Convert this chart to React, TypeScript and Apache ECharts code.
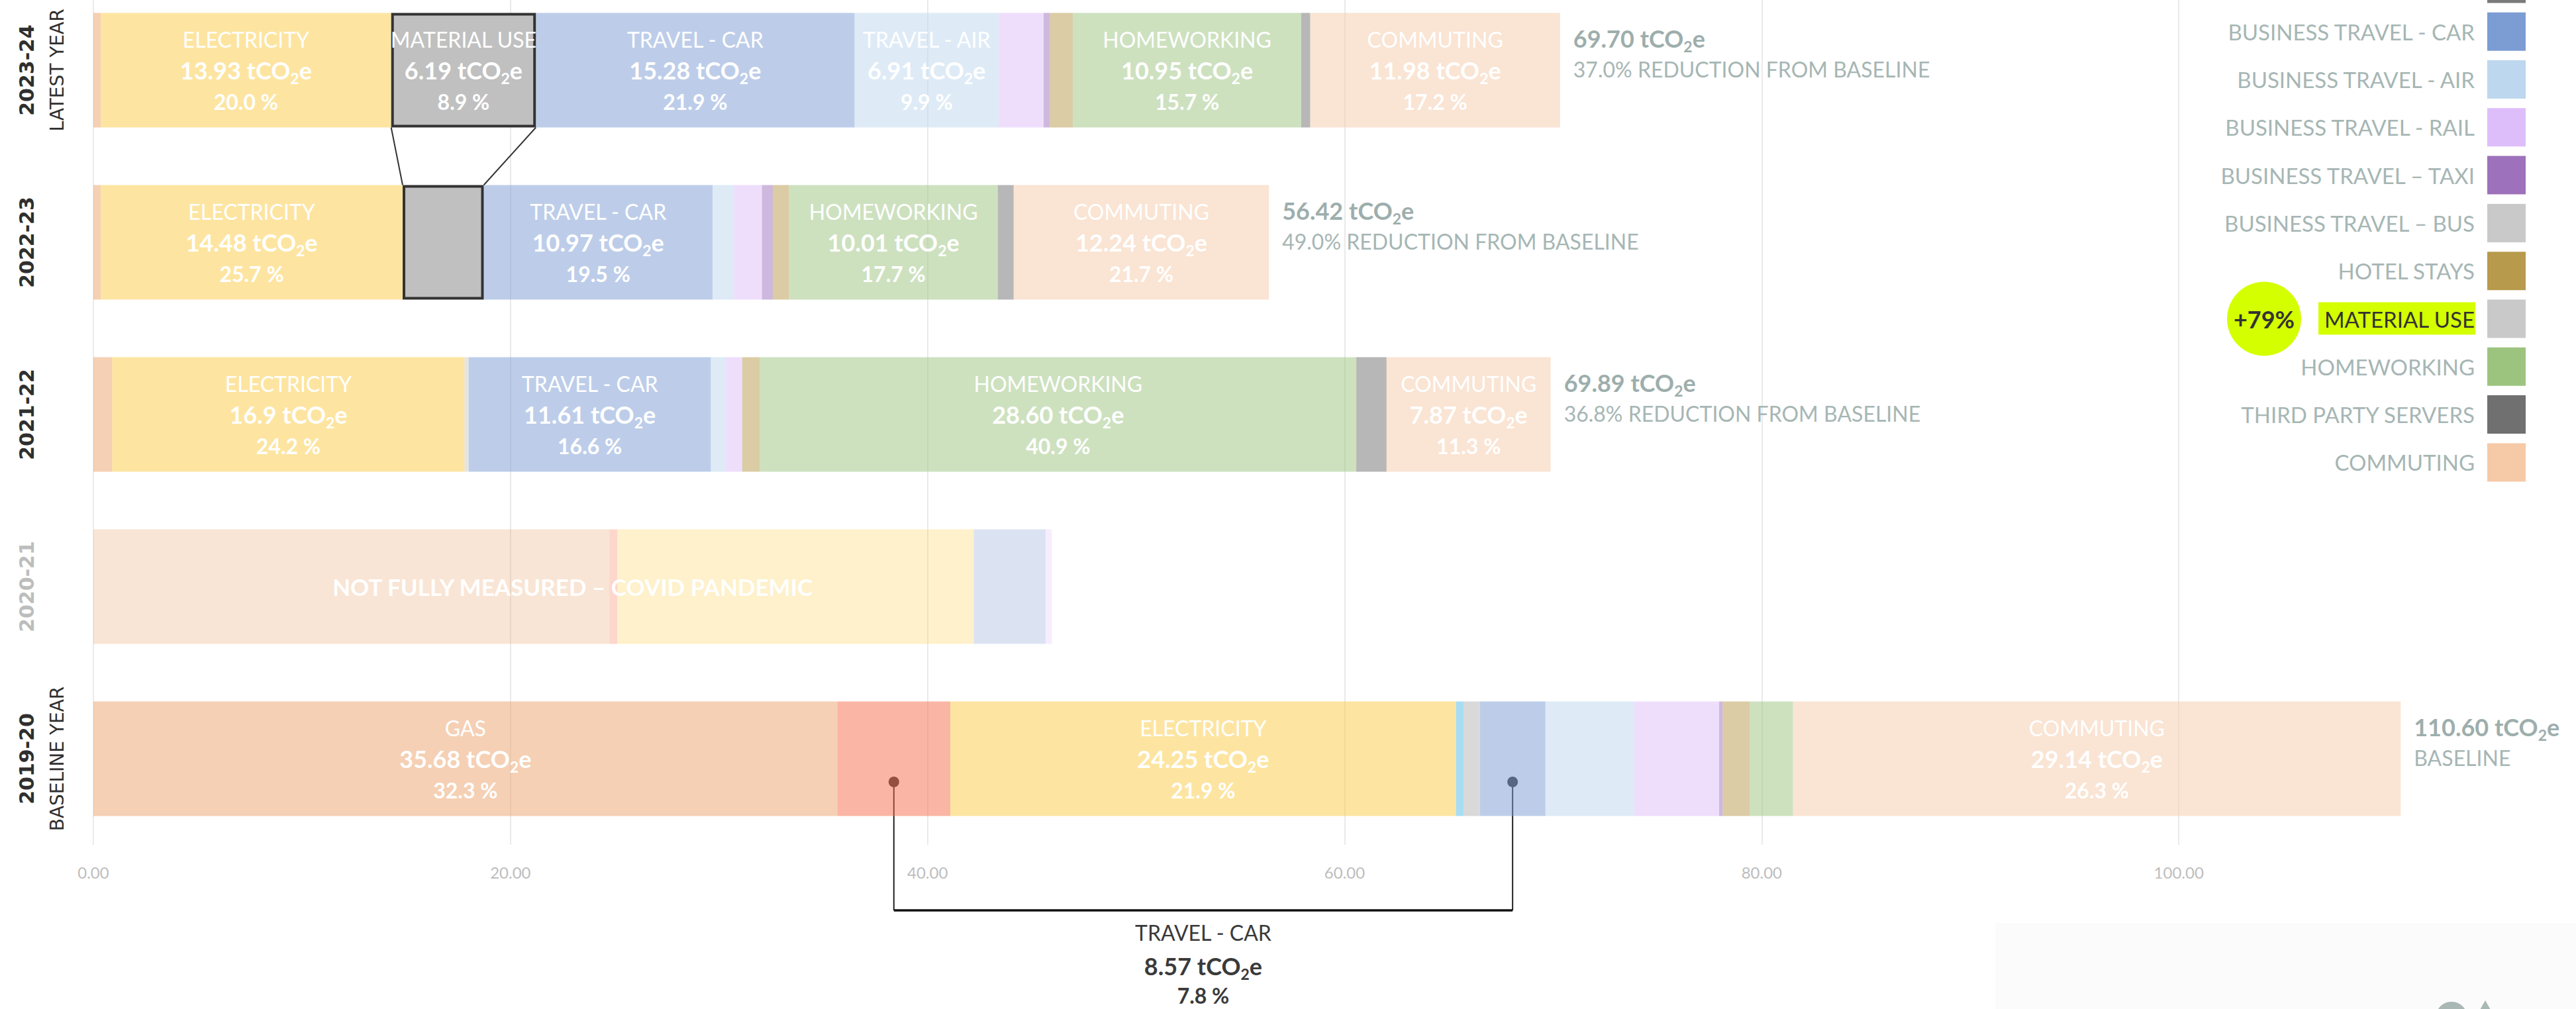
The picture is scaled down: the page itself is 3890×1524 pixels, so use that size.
import React, { useEffect, useRef } from "react";
import * as echarts from "echarts";

// ---------- DATA ----------
const years = ["2023-24", "2022-23", "2021-22", "2020-21", "2019-20"];
const yearNotes = ["LATEST YEAR", "", "", "", "BASELINE YEAR"];

// tCO2e per source, rows follow `years`
const gas = [0.35, 0.35, 0.9, 24.75, 35.68];
const fleetCar = [0, 0, 0, 0.37, 5.41];
const electricity = [13.93, 14.48, 16.9, 17.1, 24.25];
const water = [0, 0, 0, 0, 0.37];
const materialUse = [6.94, 3.89, 0.2, 0, 0.77];
const travelCar = [15.28, 10.97, 11.61, 3.44, 3.15];
const travelAir = [6.91, 1.03, 0.7, 0, 4.25];
const travelRail = [2.16, 1.34, 0.8, 0.3, 4.08];
const travelTaxi = [0.3, 0.52, 0, 0, 0.17];
const hotelStays = [1.1, 0.78, 0.85, 0, 1.29];
const homeworking = [10.95, 10.01, 28.6, 0, 2.08];
const thirdParty = [0.43, 0.76, 1.45, 0, 0];
const commuting = [11.98, 12.24, 7.87, 0, 29.14];

const reportedTotals: (number | null)[] = [69.7, 56.42, 69.89, null, 110.6];
const baselineTotal = 110.6;

// [series, row, caption, tCO2e shown, share % shown]
const segmentLabels: [string, number, string, string, string][] = [
  ["ELECTRICITY", 0, "ELECTRICITY", "13.93", "20.0"],
  ["MATERIAL USE", 0, "MATERIAL USE", "6.19", "8.9"],
  ["BUSINESS TRAVEL - CAR", 0, "TRAVEL - CAR", "15.28", "21.9"],
  ["BUSINESS TRAVEL - AIR", 0, "TRAVEL - AIR", "6.91", "9.9"],
  ["HOMEWORKING", 0, "HOMEWORKING", "10.95", "15.7"],
  ["COMMUTING", 0, "COMMUTING", "11.98", "17.2"],
  ["ELECTRICITY", 1, "ELECTRICITY", "14.48", "25.7"],
  ["BUSINESS TRAVEL - CAR", 1, "TRAVEL - CAR", "10.97", "19.5"],
  ["HOMEWORKING", 1, "HOMEWORKING", "10.01", "17.7"],
  ["COMMUTING", 1, "COMMUTING", "12.24", "21.7"],
  ["ELECTRICITY", 2, "ELECTRICITY", "16.9", "24.2"],
  ["BUSINESS TRAVEL - CAR", 2, "TRAVEL - CAR", "11.61", "16.6"],
  ["HOMEWORKING", 2, "HOMEWORKING", "28.60", "40.9"],
  ["COMMUTING", 2, "COMMUTING", "7.87", "11.3"],
  ["GAS", 4, "GAS", "35.68", "32.3"],
  ["ELECTRICITY", 4, "ELECTRICITY", "24.25", "21.9"],
  ["COMMUTING", 4, "COMMUTING", "29.14", "26.3"],
];

const covidNote = "NOT FULLY MEASURED – COVID PANDEMIC";
const carAnnotation = { caption: "TRAVEL - CAR", value: "8.57", share: "7.8" };

// legend entries; the first one is cut off by the top edge (swatch only)
const legendNames = [
  "",
  "BUSINESS TRAVEL - CAR",
  "BUSINESS TRAVEL - AIR",
  "BUSINESS TRAVEL - RAIL",
  "BUSINESS TRAVEL – TAXI",
  "BUSINESS TRAVEL – BUS",
  "HOTEL STAYS",
  "MATERIAL USE",
  "HOMEWORKING",
  "THIRD PARTY SERVERS",
  "COMMUTING",
];
const materialChange = "+79%";

// ---------- STYLE ----------
const legendColors: Record<string, string> = {
  "": "#7A7A7A",
  "BUSINESS TRAVEL - CAR": "#7C9CD4",
  "BUSINESS TRAVEL - AIR": "#BDD7EE",
  "BUSINESS TRAVEL - RAIL": "#DDBEFA",
  "BUSINESS TRAVEL – TAXI": "#9D71BB",
  "BUSINESS TRAVEL – BUS": "#C9C9C9",
  "HOTEL STAYS": "#B79A4C",
  "MATERIAL USE": "#C9C9C9",
  HOMEWORKING: "#9CC47F",
  "THIRD PARTY SERVERS": "#707070",
  COMMUTING: "#F6C9A7",
};

const seriesList = [
  { name: "GAS", data: gas, color: "#EBA169" },
  { name: "TRAVEL - CAR (FLEET)", data: fleetCar, color: "#F76B49" },
  { name: "ELECTRICITY", data: electricity, color: "#FBCB43" },
  { name: "WATER", data: water, color: "#4FBBE5" },
  { name: "MATERIAL USE", data: materialUse, color: "#C9C9C9" },
  { name: "BUSINESS TRAVEL - CAR", data: travelCar, color: "#7C9CD4" },
  { name: "BUSINESS TRAVEL - AIR", data: travelAir, color: "#BDD7EE" },
  { name: "BUSINESS TRAVEL - RAIL", data: travelRail, color: "#DDBEFA" },
  { name: "BUSINESS TRAVEL – TAXI", data: travelTaxi, color: "#9D71BB" },
  { name: "HOTEL STAYS", data: hotelStays, color: "#B79A4C" },
  { name: "HOMEWORKING", data: homeworking, color: "#9CC47F" },
  { name: "THIRD PARTY SERVERS", data: thirdParty, color: "#707070" },
  { name: "COMMUTING", data: commuting, color: "#F6C9A7" },
];

const W = 3890;
const H = 1524;
const OFF = 24; // chart div starts 24px above the page top
const CW = 3960; // chart div is wider than the page so the axis can run past the edge
const BAR = 173;
const FONT = "Lato";
const GREY_TXT = "#A6B6B4";

const whiteRich = {
  n: { fontFamily: FONT, fontSize: 32, color: "#fff", lineHeight: 47 },
  v: { fontFamily: FONT, fontSize: 36, fontWeight: "bold", color: "#fff", lineHeight: 47 },
  s: { fontFamily: FONT, fontSize: 23, fontWeight: "bold", color: "#fff", lineHeight: 23, verticalAlign: "bottom" },
  p: { fontFamily: FONT, fontSize: 32, fontWeight: "bold", color: "#fff", lineHeight: 47 },
};

function buildOption() {
  const series: any[] = seriesList.map((s) => ({
    type: "bar",
    name: s.name,
    stack: "total",
    stackStrategy: "all",
    barWidth: BAR,
    barGap: "-100%",
    z: s.name === "MATERIAL USE" ? 4 : 2,
    itemStyle: { color: s.color, opacity: 0.5 },
    label: {
      show: true,
      position: "inside",
      opacity: 1,
      formatter: (p: any) => {
        const l = segmentLabels.find((x) => x[0] === p.seriesName && x[1] === p.dataIndex);
        if (!l) return "";
        return `{n|${l[2]}}\n{v|${l[3]} tCO}{s|2}{v|e}\n{p|${l[4]} %}`;
      },
      rich: whiteRich,
    },
    data: s.data.map((v, i) => {
      if (i === 3) return { value: v, itemStyle: { opacity: 0.28 } };
      if (s.name === "MATERIAL USE" && (i === 0 || i === 1))
        return { value: v, itemStyle: { color: "#C0C0C0", opacity: 1, borderColor: "#333333", borderWidth: 4 } };
      if (s.name === "MATERIAL USE" && i === 4) return { value: v, itemStyle: { opacity: 0.7 } };
      return v;
    }),
  }));

  // total annotation at the end of each stack
  series.push({
    type: "bar",
    name: "TOTAL",
    stack: "total",
    stackStrategy: "all",
    barWidth: BAR,
    barGap: "-100%",
    silent: true,
    itemStyle: { color: "rgba(0,0,0,0)" },
    label: {
      show: true,
      position: "right",
      distance: 20,
      offset: [0, -25],
      formatter: (p: any) => {
        const t = reportedTotals[p.dataIndex];
        if (t == null) return "";
        const sub =
          t === baselineTotal
            ? "BASELINE"
            : `${((1 - t / baselineTotal) * 100).toFixed(1)}% REDUCTION FROM BASELINE`;
        return `{t|${t.toFixed(2)} tCO}{ts|2}{t|e}\n{r|${sub}}`;
      },
      rich: {
        t: { fontFamily: FONT, fontSize: 36, fontWeight: "bold", color: "#9DAEAC", lineHeight: 47 },
        ts: { fontFamily: FONT, fontSize: 23, fontWeight: "bold", color: "#9DAEAC", lineHeight: 23, verticalAlign: "bottom" },
        r: { fontFamily: FONT, fontSize: 32, color: GREY_TXT, lineHeight: 47 },
      },
    },
    data: years.map(() => 0),
  });

  // covid note overlay over the 2020-21 bar
  const rowSum = (r: number) => seriesList.reduce((a, s) => a + s.data[r], 0);
  series.push({
    type: "bar",
    name: "NOTE",
    barWidth: BAR,
    barGap: "-100%",
    silent: true,
    z: 5,
    itemStyle: { color: "rgba(0,0,0,0)" },
    label: {
      show: true,
      position: "inside",
      formatter: (p: any) => (p.dataIndex === 3 ? `{c|${covidNote}}` : ""),
      rich: { c: { fontFamily: FONT, fontSize: 35, fontWeight: "bold", color: "#fff" } },
    },
    data: years.map((_, i) => (i === 3 ? +rowSum(3).toFixed(2) : 0)),
  });

  return {
    animation: false,
    backgroundColor: "#ffffff",
    grid: { left: 141, top: 0, width: 3779, height: 1300, containLabel: false },
    xAxis: {
      type: "value",
      min: 0,
      max: 120,
      interval: 20,
      axisLine: { show: false },
      axisTick: { show: false },
      splitLine: { show: true, lineStyle: { color: "#EAEAEA", width: 2 } },
      axisLabel: {
        showMaxLabel: false,
        margin: 29,
        color: "#BDBDBD",
        fontFamily: FONT,
        fontSize: 24,
        formatter: (v: number) => v.toFixed(2),
      },
    },
    yAxis: {
      type: "category",
      inverse: true,
      data: years,
      axisLine: { show: false },
      axisTick: { show: false },
      axisLabel: { show: false },
      splitLine: { show: false },
    },
    series,
  };
}

export default function App() {
  const ref = useRef<HTMLDivElement>(null);
  useEffect(() => {
    if (!ref.current) return;
    const chart = echarts.init(ref.current, undefined, { renderer: "svg" });
    chart.setOption(buildOption() as any);

    const px = (v: number, r: number) => chart.convertToPixel({ gridIndex: 0 } as any, [v, r]) as number[];
    const cy = years.map((_, i) => px(0, i)[1]);
    const half = BAR / 2;
    const cumBefore = (row: number, idx: number) =>
      seriesList.slice(0, idx).reduce((a, s) => a + s.data[row], 0);

    const g: any[] = [];
    const txt = (x: number, y: number, style: any, extra: any = {}) => ({
      type: "text",
      x,
      y,
      ...extra,
      style: {
        align: "center",
        verticalAlign: "middle",
        textAlign: "center",
        textVerticalAlign: "middle",
        ...style,
      },
    });

    // y category labels (rotated)
    years.forEach((y, i) => {
      g.push(
        txt(
          40,
          cy[i],
          { text: y, fontFamily: "DejaVu Sans", fontSize: 30, fontWeight: "bold", fill: i === 3 ? "#BDBDBD" : "#2F2F2F" },
          { rotation: Math.PI / 2 }
        )
      );
      if (yearNotes[i]) {
        g.push(
          txt(86, cy[i], { text: yearNotes[i], fontFamily: "DejaVu Sans", fontSize: 28, fill: "#2F2F2F" }, { rotation: Math.PI / 2 })
        );
      }
    });

    // connectors between highlighted material-use boxes
    const mIdx = seriesList.findIndex((s) => s.name === "MATERIAL USE");
    const s0 = cumBefore(0, mIdx);
    const s1 = cumBefore(1, mIdx);
    const L0 = px(s0, 0)[0];
    const R0 = px(s0 + materialUse[0], 0)[0];
    const L1 = px(s1, 1)[0];
    const R1 = px(s1 + materialUse[1], 1)[0];
    const lineStyle = { stroke: "#333333", lineWidth: 2 };
    g.push({ type: "line", shape: { x1: L0, y1: cy[0] + half, x2: L1, y2: cy[1] - half }, style: lineStyle });
    g.push({ type: "line", shape: { x1: R0, y1: cy[0] + half, x2: R1, y2: cy[1] - half }, style: lineStyle });

    // bracket annotation for baseline car travel
    const fIdx = seriesList.findIndex((s) => s.name === "TRAVEL - CAR (FLEET)");
    const cIdx = seriesList.findIndex((s) => s.name === "BUSINESS TRAVEL - CAR");
    const xa = px(cumBefore(4, fIdx) + fleetCar[4] / 2, 4)[0];
    const xb = px(cumBefore(4, cIdx) + travelCar[4] / 2, 4)[0];
    const yd = cy[4] + 35;
    const yl = cy[4] + 229;
    const bStyle = { stroke: "#222222", lineWidth: 2 };
    g.push({ type: "line", shape: { x1: xa, y1: yd, x2: xa, y2: yl }, style: bStyle });
    g.push({ type: "line", shape: { x1: xb, y1: yd, x2: xb, y2: yl }, style: bStyle });
    g.push({ type: "line", shape: { x1: xa, y1: yl, x2: xb, y2: yl }, style: { stroke: "#111111", lineWidth: 3.5 } });
    g.push({ type: "circle", shape: { cx: xa, cy: yd, r: 8 }, style: { fill: "#333333" } });
    g.push({ type: "circle", shape: { cx: xb, cy: yd, r: 8 }, style: { fill: "#333333" } });
    const xm = (xa + xb) / 2;
    g.push(txt(xm, cy[4] + 262, { text: carAnnotation.caption, fontFamily: FONT, fontSize: 32, fill: "#3A3A3A" }));
    g.push(
      txt(xm, cy[4] + 313, {
        text: `{v|${carAnnotation.value} tCO}{s|2}{v|e}`,
        rich: {
          v: { fontFamily: FONT, fontSize: 36, fontWeight: "bold", fill: "#3A3A3A", lineHeight: 47 },
          s: { fontFamily: FONT, fontSize: 23, fontWeight: "bold", fill: "#3A3A3A", lineHeight: 23, verticalAlign: "bottom" },
        },
      })
    );
    g.push(txt(xm, cy[4] + 357, { text: `${carAnnotation.share} %`, fontFamily: FONT, fontSize: 32, fontWeight: "bold", fill: "#3A3A3A" }));

    // legend (right side), page coordinates shifted by OFF into the chart div
    const legTop = 47.7 + OFF;
    const legStep = 72.3;
    legendNames.forEach((name, k) => {
      const yc = legTop + (k - 1) * legStep;
      g.push({ type: "rect", shape: { x: 3756, y: yc - 29, width: 58, height: 58 }, style: { fill: legendColors[name] } });
      if (!name) return;
      const isMat = name === "MATERIAL USE";
      if (isMat) {
        g.push({ type: "rect", shape: { x: 3501, y: yc - 25, width: 237, height: 49 }, style: { fill: "#D4FF00" } });
      }
      g.push(
        txt(3737, yc, {
          text: name,
          fontFamily: FONT,
          fontSize: 33,
          fill: isMat ? "#333333" : GREY_TXT,
          align: "right",
          textAlign: "right",
        })
      );
      if (isMat) {
        g.push({ type: "circle", shape: { cx: 3419, cy: yc, r: 56 }, style: { fill: "#D4FF00" } });
        g.push(txt(3419, yc, { text: materialChange, fontFamily: FONT, fontSize: 36, fontWeight: "bold", fill: "#333333" }));
      }
    });

    // faint panel bottom-right with cut-off icons
    g.push({ type: "rect", shape: { x: 3013, y: 1394 + OFF, width: W - 3013, height: H - 1394 }, style: { fill: "#FBFBFB" } });
    g.push({ type: "circle", shape: { cx: 3702, cy: 1537 + OFF, r: 24 }, style: { fill: "#A9B8B5" } });
    g.push({
      type: "polygon",
      shape: { points: [[3753, 1511 + OFF], [3728, 1555 + OFF], [3778, 1555 + OFF]] },
      style: { fill: "#A9B8B5" },
    });

    chart.setOption({ graphic: g } as any);
    return () => chart.dispose();
  }, []);
  return (
    <div
      ref={ref}
      style={{ position: "fixed", left: 0, top: -OFF, width: CW, height: H + OFF, background: "#ffffff" }}
    />
  );
}
